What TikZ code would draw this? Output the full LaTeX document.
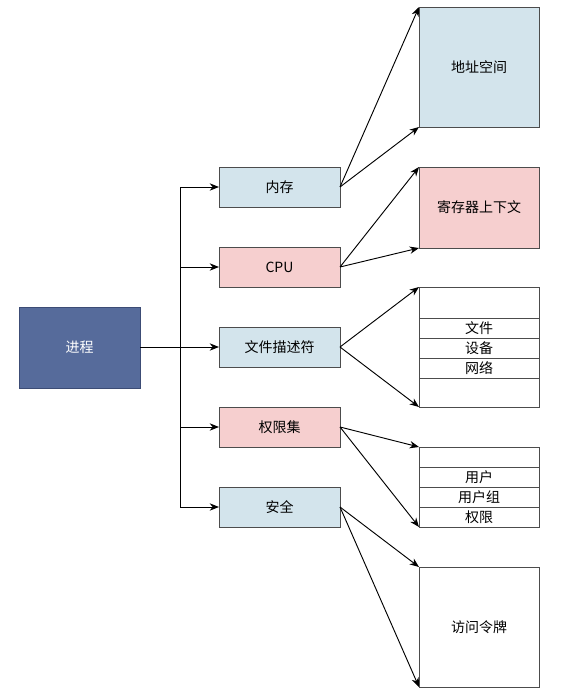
\documentclass[tikz,border=0pt]{standalone}
\usepackage{fontspec}
\setmainfont{Noto Sans CJK SC}
\usepackage{xcolor}
\usepackage{tikz}
\usetikzlibrary{positioning, calc, arrows.meta}

\definecolor{procblue}{HTML}{566B9B}
\definecolor{procedge}{HTML}{3C4C75}
\definecolor{paleblue}{HTML}{D3E4EC}
\definecolor{palered}{HTML}{F6CFCF}

\begin{document}
\begin{tikzpicture}[x=0.75pt, y=-0.75pt,
		every node/.style={font=\fontsize{10.5}{12}\selectfont, inner sep=0pt, outer sep=0pt},
		box/.style={draw=black!70, line width=0.7pt, minimum width=90.75pt, minimum height=30pt},
		bigbox/.style={draw=black!70, line width=0.7pt, minimum width=90pt, minimum height=90pt},
		rowbox/.style={draw=black!70, line width=0.7pt, minimum width=90pt, minimum height=15pt},
		link/.style={-{Stealth[length=7pt, width=5.5pt]}, line width=0.7pt}]
		\useasboundingbox (0,0) rectangle (563,699);
		
		% left
		\node [draw=procedge, fill=procblue, line width=0.7pt, text=white,
			minimum width=90.75pt, minimum height=60.75pt] (proc) at (79.5,347.5) {进程};
		\coordinate (trunk) at (180,347.5);
		
		% middle column
		\node [box, fill=paleblue] (mem) at (279.5,187) {内存};
		\node [box, fill=palered] (cpu) at (279.5,267) {CPU};
		\node [box, fill=paleblue] (fd) at (279.5,347) {文件描述符};
		\node [box, fill=palered] (perm) at (279.5,427) {权限集};
		\node [box, fill=paleblue] (sec) at (279.5,507) {安全};
		
		\foreach \n in {mem, cpu, fd, perm, sec}
			\draw [link] (proc.east) -- (trunk) |- (\n.west);
		
		% right column
		\node [bigbox, fill=paleblue] (addr) at (479,67) {地址空间};
		\node [bigbox, fill=palered, minimum height=60.75pt] (reg) at (479,207.5) {寄存器上下文};
		\node [bigbox] (files) at (479,347) {};
		\node [bigbox, minimum height=60pt] (rights) at (479,487) {};
		\node [bigbox] (token) at (479,627) {访问令牌};
		
		\node [rowbox] (f1) at (479,328) {文件};
		\node [rowbox] (f2) at (479,348) {设备};
		\node [rowbox] (f3) at (479,368) {网络};
		
		\node [rowbox] (r1) at (479,477) {用户};
		\node [rowbox] (r2) at (479,497) {用户组};
		\node [rowbox] (r3) at (479,517) {权限};
		
		\draw [link] (mem.east) -- (addr.north west);
		\draw [link] (mem.east) -- (addr.south west);
		\draw [link] (cpu.east) -- (reg.north west);
		\draw [link] (cpu.east) -- (reg.south west);
		\draw [link] (fd.east) -- (files.north west);
		\draw [link] (fd.east) -- (files.south west);
		\draw [link] (perm.east) -- (rights.north west);
		\draw [link] (perm.east) -- (rights.south west);
		\draw [link] (sec.east) -- (token.north west);
		\draw [link] (sec.east) -- (token.south west);
\end{tikzpicture}
\end{document}
